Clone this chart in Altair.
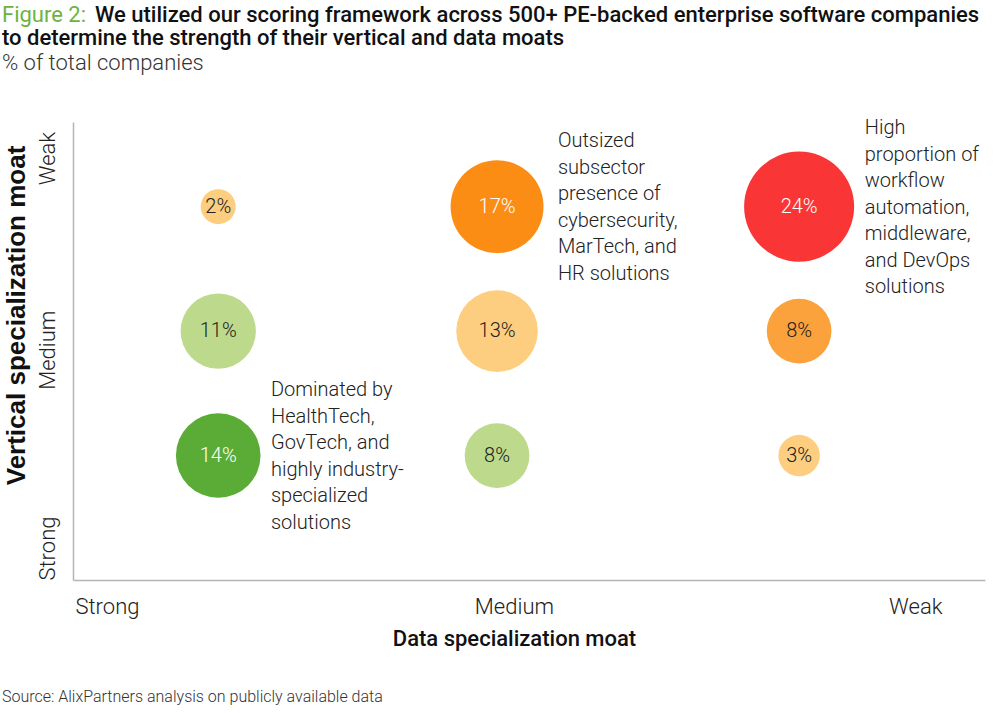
import altair as alt
import pandas as pd

# ---------------- data ----------------
data_moat = ["Strong", "Strong", "Strong", "Medium", "Medium", "Medium", "Weak", "Weak", "Weak"]
vertical_moat = ["Weak", "Medium", "Strong", "Weak", "Medium", "Strong", "Weak", "Medium", "Strong"]
shares = [2, 11, 14, 17, 13, 8, 24, 8, 3]
tones = ["pale orange", "pale green", "green", "orange", "pale orange", "pale green", "red", "amber", "pale orange"]

# column / row centres of each moat level on the chart's 1-3 scale
data_level_pos = {"Strong": 1.0, "Medium": 1.96, "Weak": 3.0}
vertical_level_pos = {"Strong": 1.0, "Medium": 2.0, "Weak": 3.0}

tone_names = ["pale orange", "orange", "amber", "red", "pale green", "green"]
tone_colors = ["#FDCE7F", "#FB8D15", "#FBA23D", "#F93535", "#BDD98B", "#5BAC37"]

x_tick_labels = ["Strong", "Medium", "Weak"]
x_tick_values = [0.617, 2.018, 3.40]
y_tick_labels = ["Strong", "Medium", "Weak"]
y_tick_values = [0.257, 1.85, 3.39]

notes = [
    "Outsized\nsubsector\npresence of\ncybersecurity,\nMarTech, and\nHR solutions",
    "High\nproportion of\nworkflow\nautomation,\nmiddleware,\nand DevOps\nsolutions",
    "Dominated by\nHealthTech,\nGovTech, and\nhighly industry-\nspecialized\nsolutions",
]
note_x = [2.1695, 3.226, 1.1816]
note_y = [3.606, 3.71, 1.606]

title_prefix = "Figure 2:"
title_line1 = "We utilized our scoring framework across 500+ PE-backed enterprise software companies"
title_line2 = "to determine the strength of their vertical and data moats"
subtitle = "% of total companies"
source = "Source: AlixPartners analysis on publicly available data"

# ---------------- tables ----------------
bubbles = pd.DataFrame({
    "data_moat": data_moat,
    "vertical_moat": vertical_moat,
    "x": [data_level_pos[v] for v in data_moat],
    "y": [vertical_level_pos[v] for v in vertical_moat],
    "share": shares,
    "tone": tones,
})
notes_df = pd.DataFrame({"note": notes, "x": note_x, "y": note_y})

FONT = "Roboto"
x_scale = alt.Scale(domain=[0.5, 3.64], nice=False, zero=False)
y_scale = alt.Scale(domain=[0, 3.68], nice=False, zero=False)

x_label_expr = "datum.value < 1.3 ? '%s' : datum.value < 2.7 ? '%s' : '%s'" % tuple(x_tick_labels)
y_label_expr = "datum.value < 1.0 ? '%s' : datum.value < 2.6 ? '%s' : '%s'" % tuple(y_tick_labels)

x_enc = alt.X(
    "x:Q", scale=x_scale,
    axis=alt.Axis(
        values=x_tick_values, labelExpr=x_label_expr, ticks=False, tickSize=0, grid=False,
        domainColor="#B5B5B5", domainWidth=1.5, labelFont=FONT, labelFontSize=22,
        labelFontWeight=300, labelColor="#222222", labelPadding=16, labelAlign="center",
        title="Data specialization moat", titleFont=FONT, titleFontSize=22, titleFontWeight=500,
        titleColor="#111111", titleX=441, titleY=65, titleBaseline="alphabetic", titleAlign="center",
    ),
)
y_enc = alt.Y(
    "y:Q", scale=y_scale,
    axis=alt.Axis(
        values=y_tick_values, labelExpr=y_label_expr, ticks=False, tickSize=0, grid=False,
        domainColor="#B5B5B5", domainWidth=1.5, labelFont=FONT, labelFontSize=22,
        labelFontWeight=300, labelColor="#222222", labelPadding=19, labelAngle=270,
        labelAlign="center", labelBaseline="alphabetic",
        title="Vertical specialization moat", titleFont="Liberation Sans", titleFontSize=26,
        titleFontWeight=700, titleColor="#111111", titleX=-49, titleY=193, titleAngle=270,
        titleAlign="center", titleBaseline="alphabetic",
    ),
)

base = alt.Chart(bubbles)

circles = base.mark_circle(opacity=1).encode(
    x=x_enc,
    y=y_enc,
    size=alt.Size("share:Q", scale=alt.Scale(domain=[0, 24], range=[237, 12100]), legend=None),
    color=alt.Color("tone:N", scale=alt.Scale(domain=tone_names, range=tone_colors), legend=None),
)

labels = base.transform_calculate(label="datum.share + '%'").mark_text(
    font=FONT, fontSize=20, fontWeight=300, align="center", baseline="middle"
).encode(
    x="x:Q",
    y="y:Q",
    text="label:N",
    color=alt.condition(
        "indexof(['orange','red','green'], datum.tone) >= 0",
        alt.value("#FFFFFF"), alt.value("#222222"),
    ),
)

note_marks = alt.Chart(notes_df).mark_text(
    font=FONT, fontSize=20, fontWeight=300, align="left", baseline="top",
    lineBreak="\n", lineHeight=26.5, color="#222222",
).encode(x="x:Q", y="y:Q", text="note:N")


def fixed_text(txt, x, y, size, weight, color):
    return alt.Chart(pd.DataFrame({"t": [txt]})).mark_text(
        font=FONT, fontSize=size, fontWeight=weight, align="left", baseline="alphabetic", color=color
    ).encode(text="t:N", x=alt.value(x), y=alt.value(y))


titles = (
    fixed_text(title_prefix, -71, -100, 22, 400, "#6DB33F")
    + fixed_text(title_line1, 22, -100, 22, 500, "#111111")
    + fixed_text(title_line2, -71, -77, 22, 500, "#111111")
    + fixed_text(subtitle, -71, -52, 22, 300, "#333333")
    + fixed_text(source, -71, 580, 16, 300, "#333333")
)

chart = alt.layer(circles, labels, note_marks, titles).properties(
    width=912, height=458,
    padding={"left": 73, "top": 122, "right": 15, "bottom": 133},
    autosize=alt.AutoSizeParams(type="none"),
).configure_view(stroke=None)

chart.save("out.html", embed_options={"renderer": "svg", "actions": False})
